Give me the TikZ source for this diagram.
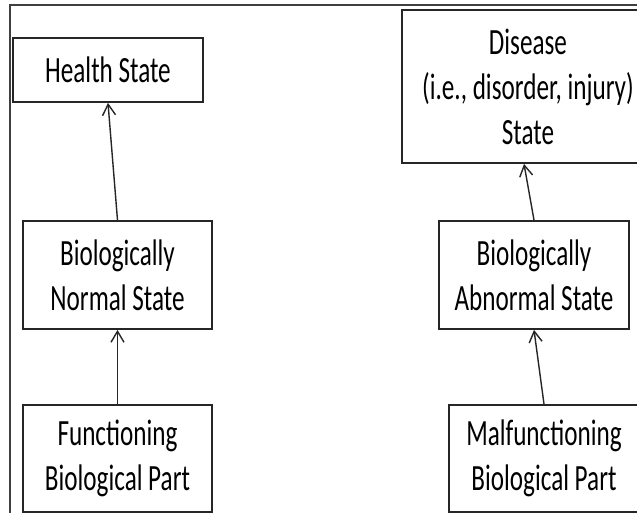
\documentclass[tikz,border=0pt]{standalone}
\usepackage{fontspec}
\setmainfont{Carlito}[FakeStretch=0.68]
\usetikzlibrary{arrows.meta}
\begin{document}
\begin{tikzpicture}[x=1pt,y=-1pt,
  statebox/.style={draw=black!85, line width=1.8pt, rectangle, inner sep=0pt,
    align=center, text=black, font={\fontsize{37}{45}\selectfont}},
  arr/.style={draw=black!85, line width=1.4pt,
    -{Straight Barb[length=11pt,width=13pt,line width=1.4pt]}}]
  \useasboundingbox (0,0) rectangle (637,513);
  \clip (0,0) rectangle (637,513);
  \fill[white] (0,0) rectangle (637,513);
  % outer frame lines
  \draw[black!75, line width=2pt] (10,513) -- (10,5) -- (637,5);
  % normal side
  \node[statebox, minimum width=190pt, minimum height=64pt] (health) at (108,70) {Health State};
  \node[statebox, minimum width=189pt, minimum height=108pt] (normal) at (117.5,275) {Biologically\\Normal State};
  \node[statebox, minimum width=189pt, minimum height=107pt] (func) at (117.5,458.5) {Functioning\\Biological Part};
  % abnormal side
  \node[statebox, minimum width=252pt, minimum height=153pt] (disease) at (528,86.5) {Disease\\(i.e., disorder, injury)\\State};
  \node[statebox, minimum width=190pt, minimum height=108pt] (abnormal) at (534,275) {Biologically\\Abnormal State};
  \node[statebox, minimum width=190pt, minimum height=107pt] (malfunc) at (544,458.5) {Malfunctioning\\Biological Part};
  % connectors
  \draw[arr] (normal.north) -- (health.south);
  \draw[arr] (func.north) -- (normal.south);
  \draw[arr] (abnormal.north) -- ([xshift=-4pt]disease.south);
  \draw[arr] (malfunc.north) -- (abnormal.south);
\end{tikzpicture}
\end{document}
